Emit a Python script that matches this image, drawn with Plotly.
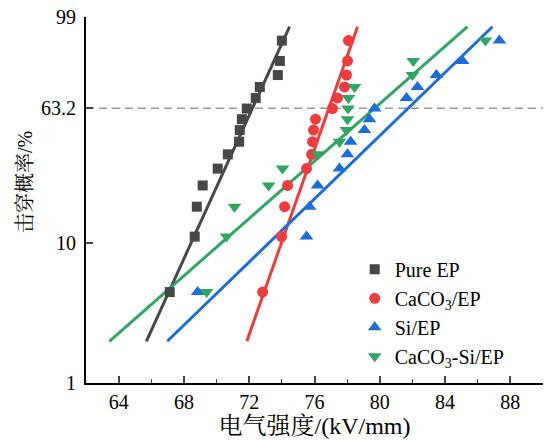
import numpy as np
import plotly.graph_objects as go

# Breakdown probability (%) of each ranked sample
rank_prob = [4.5, 11.0, 17.5, 24.0, 30.5, 37.0, 43.5, 50.0, 56.5, 63.0, 69.5, 76.0, 82.5, 89.0, 95.5]

# Breakdown strength (kV/mm)
pure_x = [67.13, 68.66, 68.79, 69.15, 70.07, 70.69, 71.38, 71.42, 71.55, 71.85, 72.40, 72.65, 73.75, 73.88, 74.00]
caco3_x = [72.82, 73.98, 74.17, 74.35, 75.51, 75.82, 75.88, 75.94, 76.06, 77.10, 77.41, 77.84, 77.96, 78.02, 78.08]
si_x = [68.84, 75.51, 75.70, 76.19, 77.53, 78.02, 78.21, 79.06, 79.37, 79.68, 81.64, 82.31, 83.47, 85.07, 87.33]
caco3si_x = [69.39, 70.61, 71.10, 73.19, 74.04, 76.19, 77.53, 77.96, 78.02, 78.05, 78.08, 78.45, 82.00, 82.05, 86.47]

# Fitted lines: strength at 63.2 % and slope (Weibull-unit per kV/mm)
fit_alpha = [72.20, 76.88, 81.74, 79.69]
fit_slope = [0.600, 0.776, 0.2643, 0.240]
fit_prob_range = [2.0, 98.0]

names = ["Pure EP", "CaCO<sub>3</sub>/EP", "Si/EP", "CaCO<sub>3</sub>-Si/EP"]
colors = ["#474747", "#F03C3C", "#1A6DDC", "#2FA762"]
symbols = ["square", "circle", "triangle-up", "triangle-down"]
sizes = [10, 11, 12, 12]
series_x = [pure_x, caco3_x, si_x, caco3si_x]

ytick_labels = ["1", "10", "63.2", "99"]
ytick_probs = [1.0, 10.0, 63.2, 99.0]
xticks = [64, 68, 72, 76, 80, 84, 88]


def weib(p):
    p = np.asarray(p, dtype=float) / 100.0
    return np.log(-np.log(1.0 - p))


fig = go.Figure()
W = weib(rank_prob)
wline = np.linspace(weib(fit_prob_range[0]), weib(fit_prob_range[1]), 50)
for i in range(4):
    xl = fit_alpha[i] + wline / fit_slope[i]
    fig.add_trace(go.Scatter(x=xl, y=wline, mode="lines",
                             line=dict(color=colors[i], width=3),
                             showlegend=False, hoverinfo="skip"))
for i in range(4):
    fig.add_trace(go.Scatter(x=series_x[i], y=W, mode="markers", name=names[i],
                             marker=dict(symbol=symbols[i], size=sizes[i], color=colors[i])))

fig.add_shape(type="line", xref="paper", x0=0, x1=1, y0=float(weib(63.2)), y1=float(weib(63.2)),
              line=dict(color="#9a9a9a", width=1.5, dash="8px,5px"), layer="below")

font_family = "Liberation Serif, 'Noto Serif CJK SC', 'Noto Sans CJK SC', serif"
fig.update_layout(
    width=544, height=440,
    margin=dict(l=86, r=1, t=17, b=57),
    paper_bgcolor="white", plot_bgcolor="white",
    font=dict(family=font_family, size=20, color="black"),
    showlegend=True,
    legend=dict(x=0.588, y=0.364, xanchor="left", yanchor="top",
                bgcolor="rgba(0,0,0,0)", font=dict(size=20), tracegroupgap=0,
                itemsizing="trace"),
    xaxis=dict(range=[62, 90], tickvals=xticks, ticks="inside", ticklen=7, tickwidth=1.5,
               showline=True, linecolor="black", linewidth=2, showgrid=False, zeroline=False,
               minor=dict(dtick=2, tick0=62, ticks="inside", ticklen=4, tickwidth=1.2, showgrid=False),
               title=dict(text="电气强度/(kV/mm)", standoff=4)),
    yaxis=dict(range=[float(weib(1.0)), float(weib(99.0))],
               tickvals=[float(v) for v in weib(ytick_probs)], ticktext=ytick_labels,
               ticks="inside", ticklen=7, tickwidth=1.5, ticklabelstandoff=4,
               showline=True, linecolor="black", linewidth=2, showgrid=False, zeroline=False),
    annotations=[dict(text="击穿概率/%", textangle=-90, xref="paper", yref="paper",
                      x=-0.135, y=0.55, xanchor="center", yanchor="middle", showarrow=False,
                      font=dict(size=20))],
)

fig.write_html("out.html", config={"displayModeBar": False},
               post_script="document.body.style.margin='0';document.body.style.overflow='hidden';")
